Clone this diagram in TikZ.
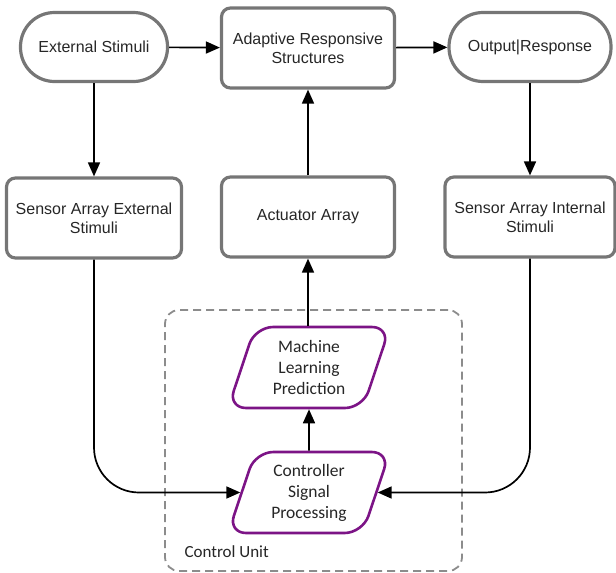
\documentclass[tikz,border=0pt]{standalone}
\usepackage{fontspec}
\setmainfont{Liberation Sans}
\newfontfamily\calfont{Carlito}
\usetikzlibrary{arrows.meta,shapes.geometric}
\definecolor{boxgray}{RGB}{118,118,118}
\definecolor{dashgray}{RGB}{140,140,140}
\definecolor{mlpurple}{RGB}{124,20,134}

\begin{document}
\begin{tikzpicture}[x=1pt,y=-1pt,every node/.style={font=\fontsize{16}{19}\selectfont,text=black!85},
 pill/.style={draw=boxgray,line width=3.2pt,rounded corners=34pt,minimum width=147pt,minimum height=69pt,align=center},
 block/.style={draw=boxgray,line width=3.2pt,rounded corners=9pt,minimum width=173pt,minimum height=80pt,align=center},
 proc/.style={draw=mlpurple,line width=2.6pt,trapezium,trapezium left angle=72,trapezium right angle=108,
   trapezium stretches=true,rounded corners=18pt,minimum width=162pt,minimum height=81pt,align=center,
   font=\calfont\fontsize{17.5}{21}\selectfont},
 unitbox/.style={draw=dashgray,line width=1.8pt,dash pattern=on 8pt off 5pt,rounded corners=14pt,
   minimum width=297pt,minimum height=261pt},
 link/.style={line width=1.7pt,-{Triangle[length=14pt,width=12pt]}}]
\useasboundingbox (0,0) rectangle (616,573);

% top row
\node[pill] (ext) at (94,47) {External Stimuli};
\node[block] (adapt) at (308,48) {Adaptive Responsive\\Structures};
\node[pill,minimum width=162pt] (out) at (530,47) {Output|Response};

% middle row
\node[block,minimum width=175pt] (sensext) at (94,218) {Sensor Array External\\Stimuli};
\node[block] (act) at (308,217) {Actuator Array};
\node[block,minimum width=170pt] (sensint) at (530,217) {Sensor Array Internal\\Stimuli};

% control unit
\node[unitbox] (unit) at (313.5,440.5) {};
\node[font=\calfont\fontsize{17}{21}\selectfont,anchor=base west] (unitlabel) at (181,557) {Control Unit};
\node[proc] (ml) at (309,367.5) {Machine\\Learning\\Prediction};
\node[proc] (ctrl) at (309,492.5) {Controller\\Signal\\Processing};

\draw[link] (ext) -- (adapt);
\draw[link] (adapt) -- (out);
\draw[link] (ext) -- (sensext);
\draw[link] (out) -- (sensint);
\draw[link] (act) -- (adapt);
\draw[link] (ml.north -| act) -- (act);
\draw[link] (ctrl) -- (ml);
\draw[link,rounded corners=45pt] (sensext.south) |- (ctrl.west);
\draw[link,rounded corners=45pt] (sensint.south) |- (ctrl.east);
\end{tikzpicture}
\end{document}
